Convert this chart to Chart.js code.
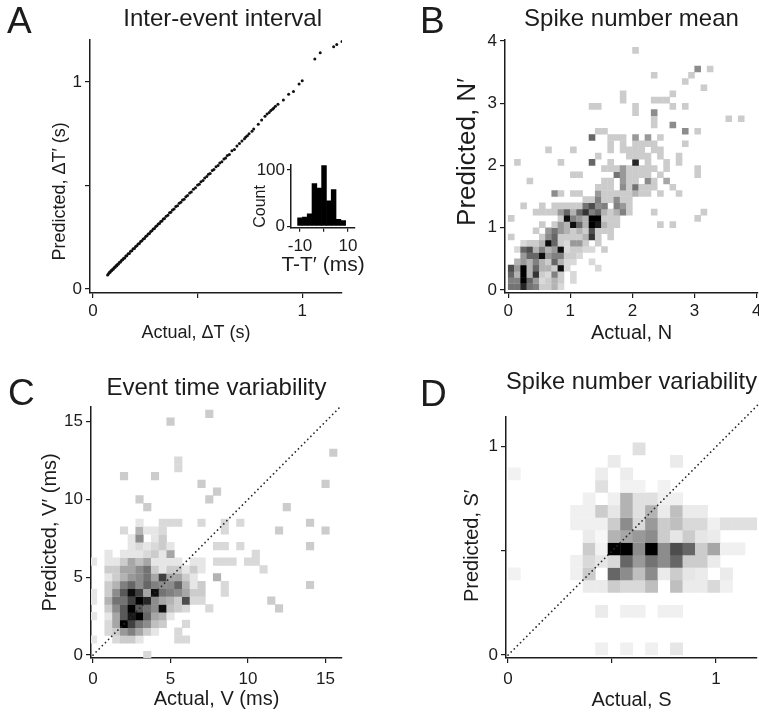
<!DOCTYPE html>
<html><head><meta charset="utf-8">
<script src="https://cdn.jsdelivr.net/npm/chart.js@4/dist/chart.umd.min.js"></script>
<style>
html,body{margin:0;padding:0;background:#fff;overflow:hidden;width:759px;height:713px;}
canvas{position:absolute;}
.letter{position:absolute;font-family:"Liberation Sans",Arial,sans-serif;font-size:37px;line-height:1;color:#1c1c1c;}
</style></head>
<body>
<canvas id="cA" width="380" height="350" style="left:0;top:0"></canvas>
<canvas id="cInset" width="166" height="130" style="left:240px;top:150px"></canvas>
<canvas id="cB" width="420" height="350" style="left:380px;top:0"></canvas>
<canvas id="cC" width="380" height="363" style="left:0;top:350px"></canvas>
<canvas id="cD" width="420" height="363" style="left:380px;top:350px"></canvas>
<div class="letter" style="left:7px;top:2px">A</div>
<div class="letter" style="left:420px;top:2px">B</div>
<div class="letter" style="left:8px;top:374px">C</div>
<div class="letter" style="left:420px;top:375px">D</div>
<script>
// ---------------- Panel A: inter-event interval ----------------
const aActual = [0.070,0.074,0.078,0.082,0.086,0.090,0.094,0.098,0.102,0.106,0.110,0.114,0.118,0.122,0.127,0.132,0.137,0.142,0.147,0.152,0.157,0.162,0.168,0.174,0.180,0.186,0.192,0.198,0.204,0.210,0.216,0.222,0.228,0.234,0.240,0.246,0.252,0.258,0.264,0.270,0.276,0.282,0.288,0.294,0.300,0.306,0.312,0.318,0.324,0.330,0.336,0.342,0.350,0.358,0.366,0.372,0.380,0.388,0.396,0.404,0.412,0.420,0.428,0.436,0.444,0.452,0.462,0.470,0.480,0.490,0.500,0.508,0.516,0.526,0.534,0.544,0.552,0.560,0.570,0.578,0.588,0.598,0.606,0.616,0.626,0.634,0.642,0.652,0.664,0.676,0.688,0.700,0.712,0.724,0.730,0.738,0.746,0.760,0.768,0.790,0.806,0.822,0.832,0.842,0.850,0.858,0.864,0.872,0.884,0.910,0.935,0.958,0.985,1.000,1.060,1.086,1.150,1.165,1.190];
const aPredicted = [0.068,0.073,0.080,0.081,0.088,0.089,0.096,0.097,0.104,0.105,0.112,0.113,0.120,0.121,0.129,0.131,0.139,0.141,0.149,0.150,0.159,0.161,0.170,0.172,0.182,0.185,0.194,0.196,0.206,0.209,0.218,0.220,0.230,0.233,0.242,0.244,0.254,0.257,0.266,0.268,0.278,0.281,0.290,0.292,0.302,0.305,0.314,0.316,0.326,0.329,0.338,0.340,0.352,0.356,0.368,0.371,0.382,0.386,0.398,0.402,0.414,0.419,0.430,0.434,0.446,0.451,0.464,0.468,0.482,0.489,0.502,0.506,0.518,0.524,0.536,0.543,0.554,0.558,0.572,0.577,0.590,0.596,0.608,0.614,0.628,0.633,0.645,0.650,0.667,0.674,0.691,0.702,0.715,0.726,0.734,0.740,0.749,0.762,0.772,0.796,0.816,0.834,0.845,0.852,0.862,0.868,0.874,0.882,0.892,0.913,0.940,0.953,0.990,1.005,1.110,1.140,1.170,1.180,1.195];
const aTicks = [0, 0.5, 1];
const aTickLabels = ['0', '', '1'];

// inset histogram of T - T'
const histBinCenters = [-10, -8, -6, -4, -2, 0, 2, 4, 6, 8];
const histCounts = [15, 16, 22, 76, 68, 108, 45, 65, 12, 10];
const histXTicks = [-10, 0, 10];
const histXLabels = ['-10', '', '10'];
const histYTicks = [0, 100];
const histYLabels = ['0', '100'];

// ---------------- Panel B: spike number mean (bins 0.1) ----------------
const bBin = 0.1;
// rows j = 0..14 (y bin), columns i = 0..19 (x bin); values = darkness %
const bDense = [
  [55,55,85,55,50,20,20,30,15,0,0,0,0,0,0,0,0,0,0,0],
  [50,50,100,60,40,15,20,30,20,0,15,0,0,0,0,0,0,0,0,0],
  [60,30,100,30,80,20,15,50,20,0,15,0,0,0,0,0,0,0,0,0],
  [70,40,100,30,60,30,30,20,95,15,0,0,0,0,15,0,0,0,0,0],
  [0,30,40,30,50,30,20,60,30,15,15,0,0,15,0,0,0,0,0,0],
  [0,0,40,60,60,95,40,50,50,20,20,15,0,0,0,0,0,0,0,0],
  [0,15,60,70,30,50,30,40,95,15,20,20,15,15,0,20,0,0,0,0],
  [0,0,15,20,20,30,95,60,20,15,40,40,20,0,20,0,0,0,0,0],
  [20,0,0,0,0,20,45,60,20,20,20,20,30,80,20,0,20,0,0,0],
  [0,0,0,0,20,0,40,55,40,30,20,30,20,70,20,20,20,0,0,0],
  [0,0,0,0,0,20,0,20,40,30,95,60,30,100,90,30,20,20,0,0],
  [20,0,0,0,0,0,0,0,20,95,50,40,30,100,100,20,20,20,0,0],
  [0,0,0,0,20,20,20,20,40,60,30,60,80,50,60,30,20,30,50,20],
  [0,0,20,0,0,20,0,20,20,20,20,20,55,70,45,50,0,50,40,20],
  [0,0,0,0,0,0,0,0,0,0,0,0,20,20,50,20,20,45,20,20]
];
// scattered bins [i, j, darkness %]
const bSparse = [
  [7,15,45],[8,15,20],[10,15,20],[11,15,20],[14,15,40],[15,15,20],[16,15,20],[17,15,20],[18,15,20],[19,15,20],[20,15,30],[21,15,20],[22,15,20],[24,15,20],[27,15,20],
  [14,16,20],[15,16,20],[16,16,20],[18,16,45],[19,16,20],[20,16,55],[21,16,20],[22,16,20],[23,16,20],[26,16,20],
  [3,17,20],[15,17,20],[16,17,20],[18,17,40],[19,17,20],[20,17,20],[22,17,45],[23,17,20],[25,17,35],
  [10,18,20],[11,18,20],[17,18,55],[18,18,40],[19,18,20],[20,18,20],[21,18,20],[22,18,20],[24,18,20],[30,18,20],
  [15,19,20],[16,19,20],[17,19,20],[18,19,40],[19,19,20],[20,19,20],[21,19,20],[22,19,20],[23,19,20],[25,19,20],[30,19,20],
  [1,20,20],[8,20,20],[13,20,60],[16,20,20],[20,20,85],[22,20,20],[25,20,20],[27,20,20],
  [14,21,20],[19,21,20],[20,21,20],[21,21,20],[22,21,20],[24,21,20],[27,21,20],
  [6,22,20],[10,22,20],[16,22,20],[18,22,20],[19,22,20],[20,22,20],[21,22,20],[23,22,20],[24,22,20],
  [16,23,20],[18,23,20],[20,23,20],[21,23,20],[22,23,20],[23,23,20],[28,23,20],
  [13,24,60],[16,24,20],[17,24,20],[18,24,20],[20,24,40],[22,24,40],[24,24,20],
  [14,25,20],[15,25,20],[28,25,45],[30,25,20],
  [23,26,20],[26,26,45],
  [23,27,20],[35,27,20],[37,27,20],
  [20,28,20],[23,28,45],
  [13,29,20],[14,29,20],[20,29,20],[26,29,20],[28,29,20],
  [18,30,20],[23,30,20],[24,30,20],[25,30,20],
  [18,31,20],[26,31,20],
  [31,32,20],[28,33,20],[23,34,20],[29,34,20],[30,35,45],[32,35,20],[20,38,20],
  [23,12,20],[31,12,20],[30,11,20],[24,10,20],[26,10,20]
];
const bTicks = [0, 1, 2, 3, 4];
const bTickLabels = ['0', '1', '2', '3', '4'];

// ---------------- Panel C: event time variability (bins 0.5 ms, centred) ----------------
const cBin = 0.5;
// rows y = 0, 0.5, ... 8.5 ; columns x = 0, 0.5, ... 7.5 ; darkness %
const cDense = [
  [0,0,0,0,0,0,0,15,0,0,0,0,0,0,0,0],
  [0,0,0,0,0,0,0,0,0,0,0,0,0,0,0,0],
  [10,0,0,15,20,20,10,0,0,0,0,15,15,0,0,0],
  [0,0,15,20,40,50,35,20,10,0,0,15,0,0,0,0],
  [0,0,15,35,100,75,55,45,25,20,0,0,15,0,0,0],
  [10,0,10,35,65,90,100,60,35,30,10,0,0,0,0,0],
  [0,0,20,45,65,100,65,55,45,95,25,20,15,0,0,15],
  [10,0,30,55,55,75,100,85,45,35,30,20,70,15,15,0],
  [10,0,20,45,65,95,75,35,95,55,50,45,35,20,20,0],
  [0,0,20,30,50,60,45,60,50,45,45,60,30,10,20,0],
  [0,0,10,20,30,40,45,55,35,75,35,35,20,10,0,0],
  [0,0,20,20,35,35,45,55,20,10,20,20,10,20,10,0],
  [10,0,10,10,20,35,25,35,10,10,10,10,0,10,10,0],
  [0,0,10,0,10,10,10,15,20,10,35,0,0,0,0,0],
  [0,0,0,0,0,10,15,10,15,20,10,0,0,0,0,0],
  [0,0,0,0,0,10,45,0,10,20,0,0,0,0,0,0],
  [0,0,0,0,15,0,30,10,10,15,0,0,0,0,0,0],
  [0,0,0,0,0,0,10,0,0,15,15,15,0,0,0,0]
];
// scattered bins [x, y, darkness %]
const cSparse = [
  [7.5,15.5,20],[5,15,20],[5.5,12.5,15],[5.5,12,15],[15.5,13,20],[2,11.5,20],[4,11.5,20],[7,11,20],[15,11,20],
  [8,10.5,20],[7.5,10,20],[3,10,20],[3.5,9.5,20],[12.5,9.5,20],[7,8.5,15],[8.5,8.5,15],[9.5,8.5,15],[14,8.5,20],
  [15,8,20],[12,8,20],[8.5,8,15],[8,7,15],[8.5,7,15],[9.5,7,15],[14,7,20],[10.5,6.5,15],[10.5,6,15],[8,6,15],
  [8.5,6,15],[9,6,15],[10,6,15],[8,5,30],[11,5.5,15],[14,4.5,20],[8.5,4.5,15],[8.5,4,15],[11.5,3.5,20],[12,3,20]
];
const cTicks = [0, 5, 10, 15];
const cTickLabels = ['0', '5', '10', '15'];
const cDiagonal = [0, 16];

// ---------------- Panel D: spike number variability (bins 0.06) ----------------
const dBin = 0.06;
// rows j = 0..16, columns k = 0..19 ; darkness %
const dDense = [
  [0,0,0,0,0,0,0,6,0,6,0,6,0,10,0,0,0,0,0,0],
  [0,0,0,0,0,0,0,0,0,0,0,0,0,0,0,0,0,0,0,0],
  [0,0,0,0,0,0,0,0,0,0,0,0,0,0,0,0,0,0,0,0],
  [0,0,0,0,0,0,0,8,0,6,6,0,6,6,0,0,0,0,0,0],
  [0,0,0,0,0,0,0,0,0,0,0,0,0,0,0,0,0,0,0,0],
  [0,0,0,0,0,0,8,8,20,15,15,25,0,25,8,8,15,6,0,0],
  [5,0,0,0,0,6,20,0,60,45,25,45,8,20,10,8,0,8,0,0],
  [0,0,0,0,0,6,15,10,15,60,40,55,45,60,20,20,8,0,0,0],
  [0,0,0,0,0,0,20,5,100,100,45,100,45,70,60,20,35,6,6,0],
  [0,0,0,0,0,0,8,3,30,35,40,45,20,10,20,10,8,0,0,0],
  [0,0,0,0,0,6,6,6,20,45,15,40,20,25,15,15,6,12,12,12],
  [0,0,0,0,0,6,6,20,10,30,12,30,8,25,8,8,0,0,0,0],
  [0,0,0,0,0,0,6,0,6,30,12,12,6,6,0,0,0,0,0,0],
  [0,0,0,0,0,0,0,12,0,5,5,0,5,0,0,0,0,0,0,0],
  [5,0,0,0,0,0,0,7,0,7,0,0,0,0,0,0,0,0,0,0],
  [0,0,0,0,0,0,0,0,8,0,0,0,0,8,0,0,0,0,0,0],
  [0,0,0,0,0,0,0,0,0,0,12,0,0,0,0,0,0,0,0,0]
];
const dTicks = [0, 0.5, 1];
const dTickLabels = ['0', '', '1'];
const dDiagonal = [0, 1.2];

// ---------------- helpers ----------------
const INK = '#1c1c1c';
const FONT = '"Liberation Sans", Arial, Helvetica, sans-serif';
function shade(p) { const g = Math.round(255 * (1 - p / 100)); return 'rgb(' + g + ',' + g + ',' + g + ')'; }

function axis(o, horizontal) {
  return {
    type: 'linear', min: o.min, max: o.max, offset: false,
    afterBuildTicks: s => { s.ticks = o.ticks.map(v => ({ value: v })); },
    afterFit: s => { if (horizontal) s.height = o.size; else s.width = o.size; },
    ticks: {
      autoSkip: false, maxRotation: 0, minRotation: 0, color: INK, padding: o.tickPad ?? 3,
      font: { family: FONT, size: o.tickFont ?? 17 },
      callback: (v) => { const i = o.ticks.indexOf(v); return i >= 0 ? o.labels[i] : ''; }
    },
    grid: { display: true, drawOnChartArea: false, drawTicks: true, tickLength: o.tickLen ?? 5, color: INK, lineWidth: 1.2, offset: false },
    border: { display: true, color: INK, width: 1.5 },
    title: { display: !!o.title, text: o.title || '', align: o.titleAlign || 'center', color: INK,
      font: { family: FONT, size: o.titleFont ?? 20 }, padding: o.titlePad }
  };
}

function options(o) {
  return {
    responsive: false, animation: false, devicePixelRatio: 1, events: [],
    layout: { padding: o.padding },
    plugins: {
      legend: { display: false }, tooltip: { enabled: false },
      title: o.title ? { display: true, text: o.title, position: o.titlePos || 'top', fullSize: !!o.titleFull,
        color: INK, font: { family: FONT, size: o.titleFont || 24, weight: 'normal' }, padding: o.titlePad } : { display: false }
    },
    scales: { x: axis(o.x, true), y: axis(o.y, false) }
  };
}

function heatDataset(cells, bin) {
  const radius = ctx => {
    const s = ctx.chart.scales.x;
    const side = Math.abs(s.getPixelForValue(bin) - s.getPixelForValue(0)) + 0.4;
    return side / (2 * Math.SQRT1_2);
  };
  return {
    type: 'scatter', order: 1,
    data: cells.map(c => ({ x: c[0], y: c[1] })),
    pointStyle: 'rect',
    pointBackgroundColor: cells.map(c => shade(c[2])),
    pointBorderWidth: 0, borderWidth: 0,
    pointRadius: radius, pointHoverRadius: radius
  };
}

function diagDataset(vals) {
  return {
    type: 'line', order: 0, data: vals.map(v => ({ x: v, y: v })),
    borderColor: '#2a2a2a', borderWidth: 1.8, borderDash: [0.01, 4.4], borderCapStyle: 'round',
    pointRadius: 0, fill: false, tension: 0, clip: false
  };
}

function denseCells(rows, xOf, yOf) {
  const out = [];
  rows.forEach((row, j) => row.forEach((p, i) => { if (p > 0) out.push([xOf(i), yOf(j), p]); }));
  return out;
}

// ---------------- Chart A ----------------
new Chart(document.getElementById('cA'), {
  type: 'scatter',
  data: { datasets: [{
    data: aActual.map((x, i) => ({ x: x, y: aPredicted[i] })),
    pointRadius: 1.5, pointBackgroundColor: '#111', pointBorderWidth: 0, borderWidth: 0
  }] },
  options: options({
    padding: { left: 0, right: 38, top: 0, bottom: 0 },
    title: '  Inter-event interval', titlePad: { top: 5, bottom: 6 },
    x: { min: -0.014, max: 1.19, ticks: aTicks, labels: aTickLabels, size: 57, tickPad: 3,
         title: 'Actual, \u0394T (s)        ', titleFont: 18, titlePad: { bottom: 6 } },
    y: { min: -0.019, max: 1.203, ticks: aTicks, labels: aTickLabels, size: 90,
         title: 'Predicted, \u0394T\u2032 (s)          ', titleFont: 18, titlePad: { top: 49 } }
  })
});

// ---------------- Inset histogram ----------------
const insetOpts = options({
  padding: { left: 0, right: 0, top: 15, bottom: 0 },
  title: 'T-T\u2032 (ms)', titlePos: 'bottom', titleFull: true, titleFont: 21, titlePad: { top: 0, bottom: 2 },
  x: { min: -13.75, max: 12.9, ticks: histXTicks, labels: histXLabels, size: 25, tickLen: 4, tickPad: 4, tickFont: 17 },
  y: { min: -3, max: 109, ticks: histYTicks, labels: histYLabels, size: 51, tickLen: 4, tickPad: 2,
       tickFont: 17, title: 'Count', titleAlign: 'start', titleFont: 16, titlePad: { top: 11 } }
});
// empty right-hand spacer axis so that the bottom label is centred under the plot
insetOpts.scales.ySpacer = { type: 'linear', position: 'right', display: true,
  grid: { display: false }, border: { display: false }, ticks: { display: false },
  afterFit: s => { s.width = 51; } };
new Chart(document.getElementById('cInset'), {
  type: 'bar',
  data: { datasets: [{
    data: histBinCenters.map((b, i) => ({ x: b, y: histCounts[i] })),
    backgroundColor: '#000', borderWidth: 0, barPercentage: 1, categoryPercentage: 1
  }] },
  options: insetOpts
});

// ---------------- Chart B ----------------
const bCells = denseCells(bDense, i => (i + 0.5) * bBin, j => (j + 0.5) * bBin)
  .concat(bSparse.map(c => [(c[0] + 0.5) * bBin, (c[1] + 0.5) * bBin, c[2]]));
new Chart(document.getElementById('cB'), {
  type: 'scatter',
  data: { datasets: [heatDataset(bCells, bBin)] },
  options: options({
    padding: { left: 0, right: 42, top: 0, bottom: 0 },
    title: 'Spike number mean', titlePad: { top: 5, bottom: 6 },
    x: { min: -0.05, max: 4.02, ticks: bTicks, labels: bTickLabels, size: 57, tickPad: 3,
         title: 'Actual, N', titlePad: { bottom: 5 } },
    y: { min: -0.05, max: 4.02, ticks: bTicks, labels: bTickLabels, size: 125,
         title: '    Predicted, N\u2032', titleFont: 26, titlePad: { top: 72 } }
  })
});

// ---------------- Chart C ----------------
const cCells = denseCells(cDense, i => i * cBin, j => j * cBin).concat(cSparse);
new Chart(document.getElementById('cC'), {
  type: 'scatter',
  data: { datasets: [diagDataset(cDiagonal), heatDataset(cCells, cBin)] },
  options: options({
    padding: { left: 0, right: 38, top: 0, bottom: 0 },
    title: 'Event time variability', titlePad: { top: 24, bottom: 4 },
    x: { min: -0.13, max: 16.06, ticks: cTicks, labels: cTickLabels, size: 55, tickPad: 6,
         title: 'Actual, V (ms)', titlePad: { bottom: 2 } },
    y: { min: -0.19, max: 15.95, ticks: cTicks, labels: cTickLabels, size: 91,
         title: 'Predicted, V\u2032 (ms)', titlePad: { top: 38 } }
  })
});

// ---------------- Chart D ----------------
const dCells = denseCells(dDense, k => (k + 0.5) * dBin, j => (j + 0.5) * dBin);
new Chart(document.getElementById('cD'), {
  type: 'scatter',
  data: { datasets: [diagDataset(dDiagonal), heatDataset(dCells, dBin)] },
  options: options({
    padding: { left: 0, right: 43, top: 0, bottom: 0 },
    title: 'Spike number variability', titlePad: { top: 18, bottom: 20 },
    x: { min: -0.01, max: 1.197, ticks: dTicks, labels: dTickLabels, size: 55, tickPad: 6,
         title: 'Actual, S', titlePad: { bottom: 1 } },
    y: { min: -0.014, max: 1.144, ticks: dTicks, labels: dTickLabels, size: 126,
         title: 'Predicted, S\u2032   ', titlePad: { top: 80 } }
  })
});
</script>
</body></html>
